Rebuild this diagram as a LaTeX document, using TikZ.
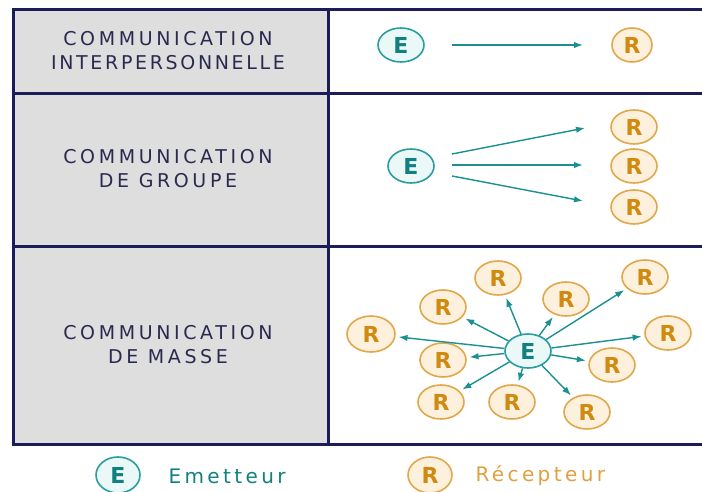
\documentclass[tikz,border=0pt]{standalone}
\usepackage{fontspec}
\setmainfont{DejaVu Sans}
\newfontfamily\labfont[LetterSpace=19]{DejaVu Sans}
\newfontfamily\labfontb[LetterSpace=14]{DejaVu Sans}
\newfontfamily\legfont[LetterSpace=17]{DejaVu Sans}
\usetikzlibrary{arrows.meta,shapes.geometric}
\definecolor{navy}{HTML}{1C1C58}
\definecolor{labcol}{HTML}{2A2A50}
\definecolor{cellgray}{HTML}{DEDEDE}
\definecolor{ecol}{HTML}{2A9D9D}
\definecolor{efill}{HTML}{EAF8F8}
\definecolor{etext}{HTML}{138080}
\definecolor{rcol}{HTML}{E0A84A}
\definecolor{rfill}{HTML}{FDF0DC}
\definecolor{rtext}{HTML}{D08A10}
\definecolor{acol}{HTML}{1A9090}
\definecolor{rleg}{HTML}{E0A040}
\tikzset{
  enode/.style={ellipse, draw=ecol, fill=efill, line width=1.6pt, minimum width=46pt, minimum height=34pt, inner sep=0pt, text=etext, font=\bfseries\fontsize{22}{22}\selectfont},
  rnode/.style={ellipse, draw=rcol, fill=rfill, line width=1.6pt, minimum width=46pt, minimum height=34pt, inner sep=0pt, text=rtext, font=\bfseries\fontsize{22}{22}\selectfont},
  arr/.style={-{Latex[length=9pt,width=6.5pt]}, draw=acol, line width=1.4pt},
  marr/.style={arr, shorten <=0pt, shorten >=3pt},
  lab/.style={align=center, text=labcol, font=\labfont\fontsize{19}{24}\selectfont},
  grid/.style={draw=navy, line width=3pt},
}
\begin{document}
\begin{tikzpicture}[x=1pt,y=-1pt]
\useasboundingbox (0,0) rectangle (702,492);
\fill[white] (0,0) rectangle (702,492);
\fill[cellgray] (13,10) rectangle (328,444);
\draw[grid] (13,10) rectangle (712,444);
\draw[grid] (13,94) -- (712,94);
\draw[grid] (13,246) -- (712,246);
\draw[grid] (328,10) -- (328,444);
% labels
\node[lab] (l1) at (168,51) {COMMUNICATION\\{\labfontb INTERPERSONNELLE}};
\node[lab] (l2) at (168,169) {COMMUNICATION\\DE GROUPE};
\node[lab] (l3) at (168,345) {COMMUNICATION\\DE MASSE};
% row 1
\node[enode] (e1) at (401,45) {E};
\node[rnode, minimum width=40pt] (r1) at (632,45) {R};
\coordinate (a1s) at (452,45);
\coordinate (a1e) at (583,45);
\draw[arr] (a1s) -- (a1e);
% row 2
\node[enode] (e2) at (411,166) {E};
\node[rnode] (r2a) at (634,127) {R};
\node[rnode] (r2b) at (634,166) {R};
\node[rnode] (r2c) at (634,207) {R};
\coordinate (a2as) at (452,154);
\coordinate (a2ae) at (585,128);
\coordinate (a2bs) at (452,165);
\coordinate (a2be) at (583,165);
\coordinate (a2cs) at (452,176);
\coordinate (a2ce) at (583,201);
\draw[arr] (a2as) -- (a2ae);
\draw[arr] (a2bs) -- (a2be);
\draw[arr] (a2cs) -- (a2ce);
% row 3
\node[enode] (e3) at (528,351) {E};
\node[rnode, minimum width=48pt, minimum height=36pt] (m1) at (371,334) {R};
\node[rnode] (m2) at (443,307) {R};
\node[rnode] (m3) at (498,278) {R};
\node[rnode] (m4) at (566,299) {R};
\node[rnode] (m5) at (645,277) {R};
\node[rnode] (m6) at (668,333) {R};
\node[rnode] (m7) at (443,360) {R};
\node[rnode] (m8) at (612,365) {R};
\node[rnode] (m9) at (441,402) {R};
\node[rnode] (m10) at (512,402) {R};
\node[rnode] (m11) at (587,412) {R};
\foreach \m in {m1,m2,m3,m4,m5,m6,m7,m8,m9,m10,m11}
  \draw[marr] (e3) -- (\m);
% legend
\node[enode, minimum width=44pt, minimum height=36pt] (le) at (118,475) {E};
\node[anchor=west, text=etext, font=\legfont\fontsize{20}{20}\selectfont] (lt1) at (165,476) {Emetteur};
\node[rnode, minimum width=44pt, minimum height=36pt] (lr) at (430,475) {R};
\node[anchor=west, text=rleg, font=\legfont\fontsize{20}{20}\selectfont] (lt2) at (472,476) {Récepteur};
\end{tikzpicture}
\end{document}
